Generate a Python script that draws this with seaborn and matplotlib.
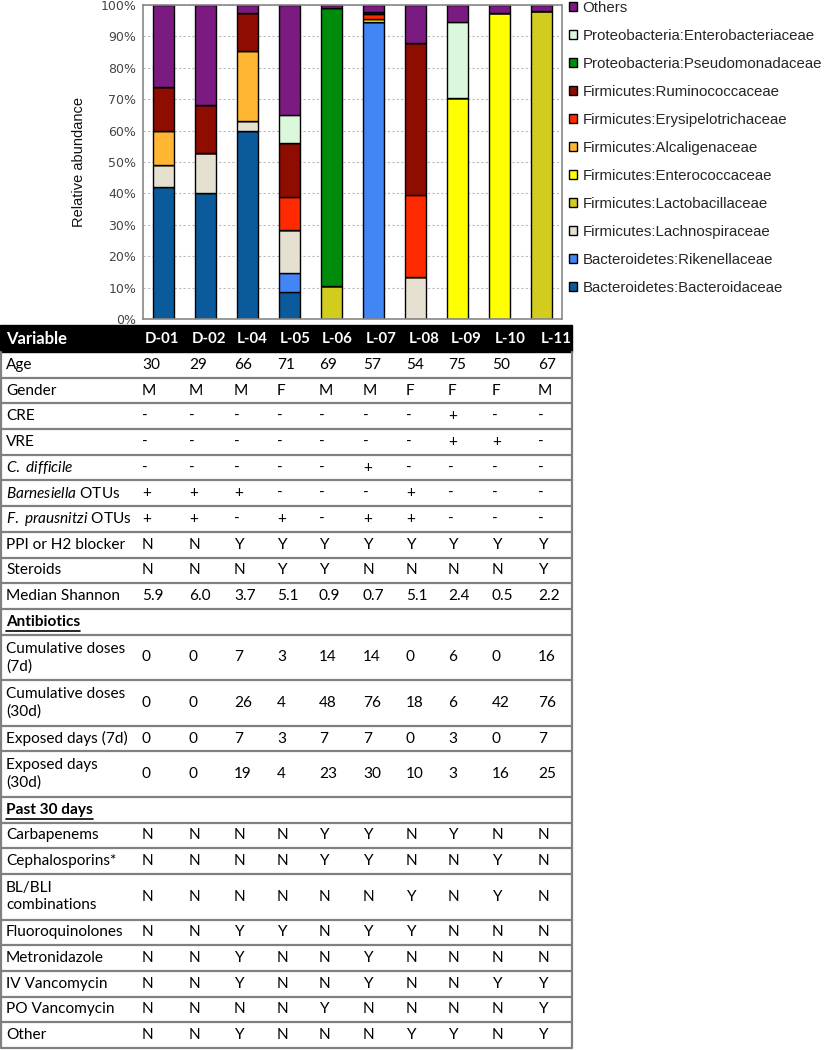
import numpy as np
import pandas as pd
import seaborn as sns
import matplotlib.pyplot as plt
from matplotlib.patches import Rectangle

# samples / bacterial families (legend order, top to bottom)
samples = ['D-01', 'D-02', 'L-04', 'L-05', 'L-06', 'L-07', 'L-08', 'L-09', 'L-10', 'L-11']
families = ['Others',
            'Proteobacteria:Enterobacteriaceae',
            'Proteobacteria:Pseudomonadaceae',
            'Firmicutes:Ruminococcaceae',
            'Firmicutes:Erysipelotrichaceae',
            'Firmicutes:Alcaligenaceae',
            'Firmicutes:Enterococcaceae',
            'Firmicutes:Lactobacillaceae',
            'Firmicutes:Lachnospiraceae',
            'Bacteroidetes:Rikenellaceae',
            'Bacteroidetes:Bacteroidaceae']
colors = ['#7b1a80', '#dcf8dc', '#008c0a', '#8e0c00', '#ff2a00', '#ffb733',
          '#ffff00', '#d2cc1e', '#e6e0d0', '#4285f4', '#0b5a9c']

# relative abundance (%) per family, one value per sample
others = [26, 32, 2.5, 35, 1, 2.3, 12, 5.5, 2.7, 2]
enterobacteriaceae = [0, 0, 0, 9, 0, 0, 0, 24, 0, 0]
pseudomonadaceae = [0, 0, 0, 0, 88.5, 0, 0, 0, 0, 0]
ruminococcaceae = [14, 15, 12, 17, 0, 0.7, 48.5, 0, 0, 0]
erysipelotrichaceae = [0, 0, 0, 10.5, 0, 1.5, 26, 0, 0, 0]
alcaligenaceae = [11, 0, 22.5, 0, 0, 0, 0, 0, 0, 0]
enterococcaceae = [0, 0, 0, 0, 0, 1, 0, 70.5, 97.3, 0]
lactobacillaceae = [0, 0, 0, 0, 10.5, 0, 0, 0, 0, 98]
lachnospiraceae = [7, 13, 3, 14, 0, 0, 13.5, 0, 0, 0]
rikenellaceae = [0, 0, 0, 6, 0, 94.5, 0, 0, 0, 0]
bacteroidaceae = [42, 40, 60, 8.5, 0, 0, 0, 0, 0, 0]
abundance = [others, enterobacteriaceae, pseudomonadaceae, ruminococcaceae,
             erysipelotrichaceae, alcaligenaceae, enterococcaceae, lactobacillaceae,
             lachnospiraceae, rikenellaceae, bacteroidaceae]

# patient table
age = [30, 29, 66, 71, 69, 57, 54, 75, 50, 67]
gender = list('MMMFMMFFFM')
cre = list('-------+--')
vre = list('-------++-')
cdiff = list('-----+----')
barnesiella = list('+++---+---')
fprausnitzii = list('++-+-++---')
ppi = list('NNYYYYYYYY')
steroids = list('NNNYYNNNNY')
shannon = ['5.9', '6.0', '3.7', '5.1', '0.9', '0.7', '5.1', '2.4', '0.5', '2.2']
cum_doses_7d = [0, 0, 7, 3, 14, 14, 0, 6, 0, 16]
cum_doses_30d = [0, 0, 26, 4, 48, 76, 18, 6, 42, 76]
exposed_7d = [0, 0, 7, 3, 7, 7, 0, 3, 0, 7]
exposed_30d = [0, 0, 19, 4, 23, 30, 10, 3, 16, 25]
carbapenems = list('NNNNYYNYNN')
cephalosporins = list('NNNNYYNNYN')
bl_bli = list('NNNNNNYNYN')
fluoroquinolones = list('NNYYNYYNNN')
metronidazole = list('NNYNNYNNNN')
iv_vancomycin = list('NNYNNYNNYY')
po_vancomycin = list('NNNNYNNNNY')
other_abx = list('NNYNNNYYNY')

table_rows = [
    ('Age', age), ('Gender', gender), ('CRE', cre), ('VRE', vre),
    (r'$\it{C.\ difficile}$', cdiff),
    (r'$\it{Barnesiella}$ OTUs', barnesiella),
    (r'$\it{F.\ prausnitzi}$ OTUs', fprausnitzii),
    ('PPI or H2 blocker', ppi), ('Steroids', steroids),
    ('Median Shannon', shannon),
    ('Antibiotics', None),
    ('Cumulative doses\n(7d)', cum_doses_7d),
    ('Cumulative doses\n(30d)', cum_doses_30d),
    ('Exposed days (7d)', exposed_7d),
    ('Exposed days\n(30d)', exposed_30d),
    ('Past 30 days', None),
    ('Carbapenems', carbapenems), ('Cephalosporins*', cephalosporins),
    ('BL/BLI\ncombinations', bl_bli), ('Fluoroquinolones', fluoroquinolones),
    ('Metronidazole', metronidazole), ('IV Vancomycin', iv_vancomycin),
    ('PO Vancomycin', po_vancomycin), ('Other', other_abx),
]

sns.set_theme(style='white')
plt.rcParams['font.family'] = ['Liberation Sans', 'DejaVu Sans']
plt.rcParams['mathtext.fontset'] = 'custom'
plt.rcParams['mathtext.rm'] = 'Lato'
plt.rcParams['mathtext.it'] = 'Lato:italic'

W, H = 824, 1050
fig = plt.figure(figsize=(W / 100, H / 100), dpi=100)
tax = fig.add_axes([0, 0, 1, 1])
tax.set_xlim(0, W)
tax.set_ylim(H, 0)
tax.axis('off')

ax = fig.add_axes([143 / W, 1 - 319 / H, (562 - 143) / W, (319 - 5) / H])

long = pd.DataFrame({
    'Sample': np.tile(samples, len(families)),
    'Family': np.repeat(families, len(samples)),
    'Abundance': np.concatenate(abundance),
})
sns.histplot(data=long, x='Sample', hue='Family', weights='Abundance',
             hue_order=families, palette=dict(zip(families, colors)),
             multiple='stack', discrete=True, shrink=0.5, alpha=1,
             edgecolor='black', linewidth=1, ax=ax)

ax.set_xlim(-0.5, len(samples) - 0.5)
ax.set_ylim(0, 100)
ax.set_yticks(range(0, 101, 10))
ax.set_yticklabels([f'{v}%' for v in range(0, 101, 10)],
                   fontfamily='DejaVu Sans', fontsize=9, color='#444444')
ax.set_xticks(np.arange(0.5, len(samples) - 1, 1))
ax.set_xticklabels([])
ax.tick_params(axis='both', direction='out', length=3, width=1, color='#777777', pad=2)
ax.yaxis.grid(True, linestyle=(0, (2, 2)), color='#bbbbbb', linewidth=0.8)
ax.set_axisbelow(True)
for s in ax.spines.values():
    s.set_color('#888888')
    s.set_linewidth(1.2)
ax.set_xlabel('')
ax.set_ylabel('Relative abundance', fontsize=10.5, color='#111111', labelpad=10)

sns.move_legend(ax, 'upper left', bbox_to_anchor=(569 / W, 1 - 1 / H),
                bbox_transform=fig.transFigure, frameon=False, title='',
                fontsize=10.8, handlelength=0.55, handleheight=0.55,
                handletextpad=0.35, labelspacing=0.93, borderaxespad=0, borderpad=0)

# ---- table ----
col_x = [142, 189, 234, 277, 319, 363, 406, 448, 492, 538]
left, right = 1, 572
tfont = dict(fontfamily='Lato', fontsize=11.1, color='black')
line_c = '#808080'

y = 325
tax.add_patch(Rectangle((0, y), right, 27, color='black', zorder=1))
tax.text(6, y + 14, 'Variable', va='center', ha='left', fontweight='bold',
         fontfamily='Lato', fontsize=12, color='white', zorder=2)
for xv, s in zip(col_x, samples):
    tax.text(xv + 3, y + 14, s, va='center', ha='left', fontweight='bold',
             fontfamily='Lato', fontsize=10.8, color='white', zorder=2)
y += 27

underline = []
for label, vals in table_rows:
    h = 45.5 if '\n' in label else 25.7
    yc = y + h / 2
    if vals is None:
        t = tax.text(6, yc, label, va='center', ha='left', fontweight='bold', **tfont)
        underline.append((t, yc))
    else:
        tax.text(6, yc, label, va='center', ha='left', linespacing=1.3, **tfont)
        for xv, v in zip(col_x, vals):
            tax.text(xv, yc, str(v), va='center', ha='left', **tfont)
    y += h
    tax.plot([left, right], [y, y], color=line_c, lw=1.6, solid_capstyle='butt')

tax.plot([left, left], [352, y], color=line_c, lw=1.6)
tax.plot([right, right], [352, y], color=line_c, lw=1.6)

fig.canvas.draw()
r = fig.canvas.get_renderer()
inv = tax.transData.inverted()
for t, yc in underline:
    bb = t.get_window_extent(r)
    (x0, _), (x1, _) = inv.transform([[bb.x0, bb.y0], [bb.x1, bb.y1]])
    tax.plot([x0, x1], [yc + 9, yc + 9], color='black', lw=1.2)

fig.savefig('out.png', dpi=100)
